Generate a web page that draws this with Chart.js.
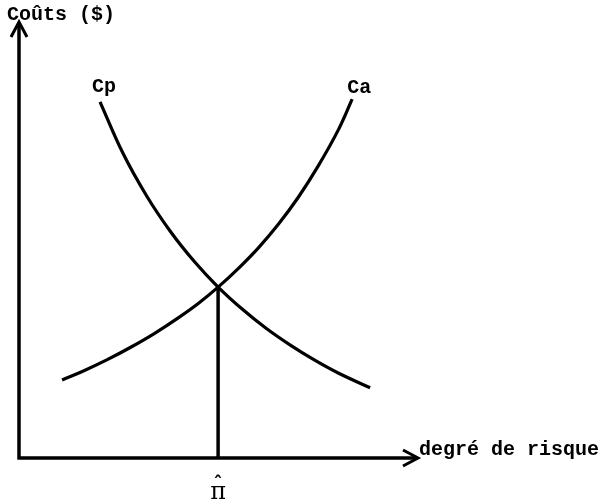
<!DOCTYPE html>
<html>
<head>
<meta charset="utf-8">
<script src="https://cdn.jsdelivr.net/npm/chart.js@4.4.0/dist/chart.umd.min.js"></script>
<style>
html,body{margin:0;padding:0;background:#fff;}
#wrap{width:602px;height:504px;position:relative;}
</style>
</head>
<body>
<div id="wrap"><canvas id="c" width="602" height="504"></canvas></div>
<script>
// Data (abstract units, 0–100 on both axes)
const cpX = [20.3, 26, 32, 38, 44, 49.9, 56, 62, 68, 74, 80, 88];
const cpY = [81.7, 70.0, 60.1, 51.9, 45.0, 39.2, 34.1, 29.7, 25.9, 22.5, 19.5, 16.1];
const caX = [10.8, 16, 22, 28, 34, 40, 45, 49.9, 55, 60, 65, 70, 75, 80, 83.5];
const caY = [17.9, 19.9, 22.5, 25.4, 28.6, 32.2, 35.5, 39.2, 43.5, 48.2, 53.6, 59.8, 67.0, 75.2, 82.3];
const piHatX = [49.9, 49.9];
const piHatY = [0, 39.2];
const curveLabels = ["Cp", "Ca"];
const yAxisTitle = "Coûts ($)";
const xAxisTitle = "degré de risque";
const xTickLabel = "π";

const toPts = (xs, ys) => xs.map((x, i) => ({x: x, y: ys[i]}));
const FONT = 'bold 20px "Liberation Mono", "Courier New", monospace';

const annot = {
  id: 'annot',
  afterDraw(chart) {
    const ctx = chart.ctx;
    const xs = chart.scales.x, ys = chart.scales.y;
    const x0 = xs.getPixelForValue(0), y0 = ys.getPixelForValue(0);
    const xEnd = xs.getPixelForValue(100), yEnd = ys.getPixelForValue(100);
    ctx.save();
    ctx.strokeStyle = '#000';
    ctx.fillStyle = '#000';
    ctx.lineWidth = 3.5;
    ctx.lineCap = 'butt';
    // axes
    ctx.beginPath();
    ctx.moveTo(x0, y0 + 1.5); ctx.lineTo(x0, yEnd + 2);
    ctx.moveTo(x0 - 1.5, y0); ctx.lineTo(xEnd - 2, y0);
    ctx.stroke();
    // arrow heads
    ctx.lineWidth = 3;
    ctx.lineJoin = 'miter';
    ctx.beginPath();
    ctx.moveTo(x0 - 8, yEnd + 15); ctx.lineTo(x0, yEnd); ctx.lineTo(x0 + 8, yEnd + 15);
    ctx.moveTo(xEnd - 15, y0 - 8); ctx.lineTo(xEnd, y0); ctx.lineTo(xEnd - 15, y0 + 8);
    ctx.stroke();
    // texts
    ctx.font = FONT;
    ctx.textBaseline = 'alphabetic';
    ctx.textAlign = 'left';
    ctx.fillText(yAxisTitle, 7, 20);
    ctx.fillText(xAxisTitle, xEnd + 1, y0 - 3);
    ctx.fillText(curveLabels[0], xs.getPixelForValue(cpX[0]) - 8, 92);
    ctx.fillText(curveLabels[1], xs.getPixelForValue(caX[caX.length - 1]) - 5, 93);
    // pi hat
    const px = xs.getPixelForValue(piHatX[0]);
    ctx.textAlign = 'center';
    ctx.font = '24px "DejaVu Serif", serif';
    ctx.fillText(xTickLabel, px, y0 + 41);
    ctx.font = 'bold 18px "DejaVu Sans", sans-serif';
    ctx.fillText('ˆ', px, y0 + 31);
    ctx.restore();
  }
};

const lineDs = (data) => ({
  data: data,
  showLine: true,
  borderColor: '#000',
  borderWidth: 3.2,
  pointRadius: 0,
  fill: false,
  tension: 0.4,
  clip: false
});

new Chart(document.getElementById('c'), {
  type: 'scatter',
  data: {
    datasets: [
      lineDs(toPts(cpX, cpY)),
      lineDs(toPts(caX, caY)),
      Object.assign(lineDs(toPts(piHatX, piHatY)), {tension: 0, borderWidth: 3.5})
    ]
  },
  options: {
    responsive: false,
    animation: false,
    events: [],
    layout: { padding: { left: 19, right: 184, top: 22, bottom: 46 } },
    plugins: { legend: { display: false }, tooltip: { enabled: false } },
    scales: {
      x: { type: 'linear', min: 0, max: 100, display: false },
      y: { type: 'linear', min: 0, max: 100, display: false }
    }
  },
  plugins: [annot]
});
</script>
</body>
</html>
